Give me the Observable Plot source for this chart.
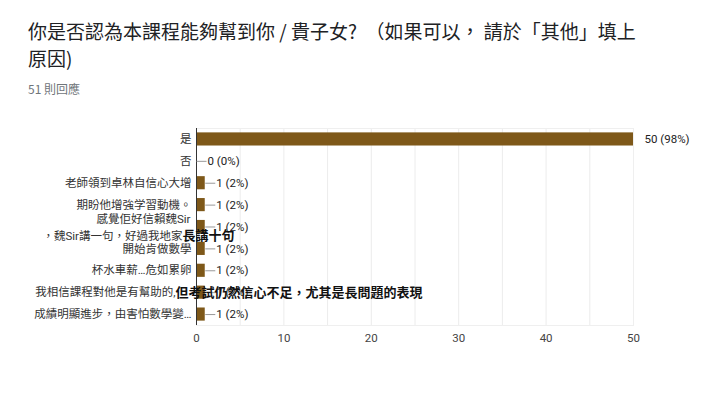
<!DOCTYPE html>
<html>
<head>
<meta charset="utf-8">
<script src="https://cdn.jsdelivr.net/npm/d3@7"></script>
<script src="https://cdn.jsdelivr.net/npm/@observablehq/plot@0.6"></script>
<style>
  html, body { margin: 0; padding: 0; background: #fff; }
  body { width: 719px; height: 393px; position: relative; overflow: hidden;
         font-family: Roboto, "Noto Sans CJK TC", "Noto Sans CJK SC", sans-serif; }
  #title { position: absolute; left: 28px; top: 17px; font-size: 19px; line-height: 27px;
           color: #202124; font-family: "Noto Sans CJK TC", sans-serif; white-space: pre; }
  #sub { position: absolute; left: 28px; top: 80px; font-size: 12px; color: #70757a;
         font-family: "Noto Sans CJK TC", sans-serif; }
  #chart { position: absolute; left: 0; top: 110px; }
</style>
</head>
<body>
<div id="title"></div>
<div id="sub"></div>
<div id="chart"></div>
<script>
const titleLines = ["你是否認為本課程能夠幫到你 / 貴子女?  （如果可以， 請於「其他」填上", "原因)"];
const subtitle = "51 則回應";

const categories = [
  "是",
  "否",
  "老師領到卓林自信心大增",
  "期盼他增強学習動機。",
  "感覺佢好信賴魏Sir，魏Sir講一句，好過我地家長講十句",
  "開始肯做數學",
  "杯水車薪…危如累卵",
  "我相信課程對他是有幫助的,但考試仍然信心不足，尤其是長問題的表現",
  "成績明顯進步，由害怕數學變…"
];
const counts = [50, 0, 1, 1, 1, 1, 1, 1, 1];
const percents = [98, 0, 2, 2, 2, 2, 2, 2, 2];
const axisLabels = ["是", "否", "老師領到卓林自信心大增", "期盼他增強学習動機。", "", "開始肯做數學", "杯水車薪…危如累卵", "", "成績明顯進步，由害怕數學變…"];
const xTicks = [0, 10, 20, 30, 40, 50];
const gridTicks = [0, 5, 10, 15, 20, 25, 30, 35, 40, 45, 50];

// glitched (wrapped / overflowing) labels
const wrapLine1 = "感覺佢好信賴魏Sir";
const wrapPre = ["，魏Sir講一句，好過我地家", "我相信課程對他是有幫助的,"];
const wrapPost = ["長講十句", "但考試仍然信心不足，尤其是長問題的表現"];

document.getElementById("title").textContent = titleLines.join("\n");
document.getElementById("sub").textContent = subtitle;

const data = categories.map((c, i) => ({cat: c, count: counts[i], pct: percents[i], label: axisLabels[i]}));
const maxCount = d3.max(counts);
const BAR = "#7e5819";
const cjk = "Roboto, 'Noto Sans CJK TC', sans-serif";
const FS = 11.5;

const plot = Plot.plot({
  width: 719,
  height: 283,
  marginLeft: 196,
  marginRight: 86,
  marginTop: 18,
  marginBottom: 68,
  style: {fontFamily: cjk, fontSize: FS + "px", color: "#444", background: "#fff"},
  x: {domain: [0, 50], ticks: xTicks, tickSize: 0, tickPadding: 8, label: null},
  y: {domain: categories, paddingInner: 0.4, paddingOuter: 0.2, round: false, label: null},
  marks: [
    Plot.ruleX(gridTicks, {stroke: "#ececec"}),
    Plot.frame({stroke: "#efefef"}),
    Plot.barX(data, {x: "count", y: "cat", fill: BAR}),
    Plot.ruleX([0], {stroke: "#333"}),
    Plot.link(data.filter(d => d.count < maxCount), {
      x1: "count", x2: d => d.count + 1.15, y1: "cat", y2: "cat", stroke: "#999", strokeWidth: 1
    }),
    Plot.text(data, {x: "count", y: "cat", text: d => `${d.count} (${d.pct}%)`,
      textAnchor: "start", dx: 11, fill: "#222", fontSize: FS}),
    Plot.axisY({tickSize: 0, tickPadding: 5, tickFormat: (d) => axisLabels[categories.indexOf(d)], fill: "#333", fontSize: FS}),
    Plot.axisX({ticks: xTicks, tickSize: 0, tickPadding: 8, fill: "#444", fontSize: FS}),
    // row 5: wrapped label
    Plot.text([categories[4]], {y: d => d, frameAnchor: "left", text: [wrapLine1], textAnchor: "end", dx: -6, dy: -8, fill: "#333", fontSize: FS}),
    Plot.text([categories[4]], {y: d => d, frameAnchor: "left", text: [wrapPre[0]], textAnchor: "end", dx: -14, dy: 9, fill: "#333", fontSize: FS}),
    Plot.text([categories[4]], {y: d => d, frameAnchor: "left", text: [wrapPost[0]], textAnchor: "start", dx: -14, dy: 9, fill: "#111", fontSize: 13, fontWeight: "bold"}),
    // row 8: overflowing label
    Plot.text([categories[7]], {y: d => d, frameAnchor: "left", text: [wrapPre[1]], textAnchor: "end", dx: -21, fill: "#333", fontSize: FS}),
    Plot.text([categories[7]], {y: d => d, frameAnchor: "left", text: [wrapPost[1]], textAnchor: "start", dx: -21, fill: "#111", fontSize: 13, fontWeight: "bold"})
  ]
});
document.getElementById("chart").appendChild(plot);
</script>
</body>
</html>
